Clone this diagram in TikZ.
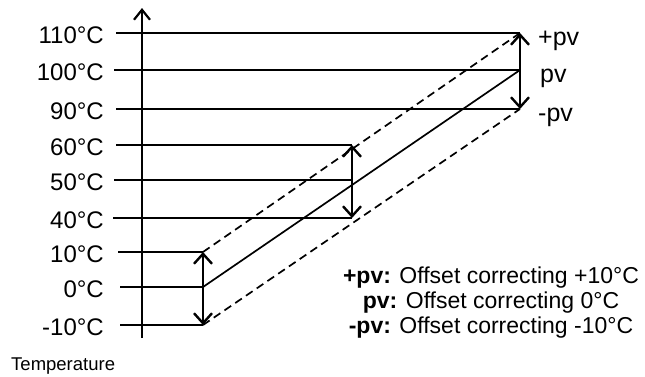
\documentclass[tikz,border=0pt]{standalone}
\usepackage{fontspec}
\setmainfont{Liberation Sans}
\usetikzlibrary{arrows.meta}
\begin{document}
\begin{tikzpicture}[x=1pt,y=-1pt,
  hline/.style={line width=2pt},
  axisline/.style={line width=2.4pt,-{Straight Barb[length=10pt,width=16pt,line width=2.2pt]}},
  rangearrow/.style={line width=2.6pt,{Straight Barb[length=10pt,width=18pt,line width=2.4pt]}-{Straight Barb[length=10pt,width=18pt,line width=2.4pt]}},
  diagline/.style={line width=1.7pt},
  dashline/.style={line width=1.7pt,dash pattern=on 8pt off 5pt},
  lbl/.style={font=\fontsize{24}{28}\selectfont,anchor=base east,inner sep=0pt},
  plbl/.style={font=\fontsize{25}{29}\selectfont,anchor=base west,inner sep=0pt},
  leg/.style={font=\fontsize{23}{27}\selectfont,anchor=base,inner sep=0pt}]
\useasboundingbox (0,0) rectangle (645,376);
% axis
\coordinate (axb) at (142,338);
\coordinate (axt) at (142,8);
\draw[axisline] (axb) -- (axt);
% labels
\node[lbl] (t110) at (104,43) {110\textdegree C};
\node[lbl] (t100) at (104,80) {100\textdegree C};
\node[lbl] (t90) at (104,119) {90\textdegree C};
\node[lbl] (t60) at (104,155) {60\textdegree C};
\node[lbl] (t50) at (104,190) {50\textdegree C};
\node[lbl] (t40) at (104,228) {40\textdegree C};
\node[lbl] (t10) at (104,262) {10\textdegree C};
\node[lbl] (t0) at (104,297) {0\textdegree C};
\node[lbl] (tm10) at (104,335) {-10\textdegree C};
% line start/end coordinates
\coordinate (s110) at (116,33);  \coordinate (e110) at (520,33);
\coordinate (s100) at (114,70);  \coordinate (e100) at (520,70);
\coordinate (s90) at (116,109);  \coordinate (e90) at (520,109);
\coordinate (s60) at (116,145);  \coordinate (e60) at (352,145);
\coordinate (s50) at (114,180);  \coordinate (e50) at (352,180);
\coordinate (s40) at (113,218);  \coordinate (e40) at (352,218);
\coordinate (s10) at (118,252);  \coordinate (e10) at (203,252);
\coordinate (s0) at (120,287);   \coordinate (e0) at (203,287);
\coordinate (sm10) at (120,325); \coordinate (em10) at (203,325);
\foreach \n in {110,100,90,60,50,40,10,0,m10}{\draw[hline] (s\n) -- (e\n);}
% diagonals
\draw[diagline] (e0) -- (e100);
\draw[dashline] (e10) -- (e110);
\draw[dashline] (em10) -- (e90);
% ranges
\draw[rangearrow] (e110) -- (e90);
\draw[rangearrow] (e60) -- (e40);
\draw[rangearrow] (e10) -- (em10);
% right labels
\node[plbl] (ppv) at (538,45) {+pv};
\node[plbl] (pv) at (540,82) {pv};
\node[plbl] (mpv) at (538,121) {-pv};
% legend
\node[leg] (l1) at (491,283) {\textbf{+pv:} Offset correcting +10\textdegree C};
\node[leg] (l2) at (491,308) {\textbf{pv:} Offset correcting 0\textdegree C};
\node[leg] (l3) at (491,333) {\textbf{-pv:} Offset correcting -10\textdegree C};
% axis title
\node[font=\fontsize{18.5}{22}\selectfont,anchor=base west,inner sep=0pt] (ttl) at (11,370) {Temperature};
\end{tikzpicture}
\end{document}
